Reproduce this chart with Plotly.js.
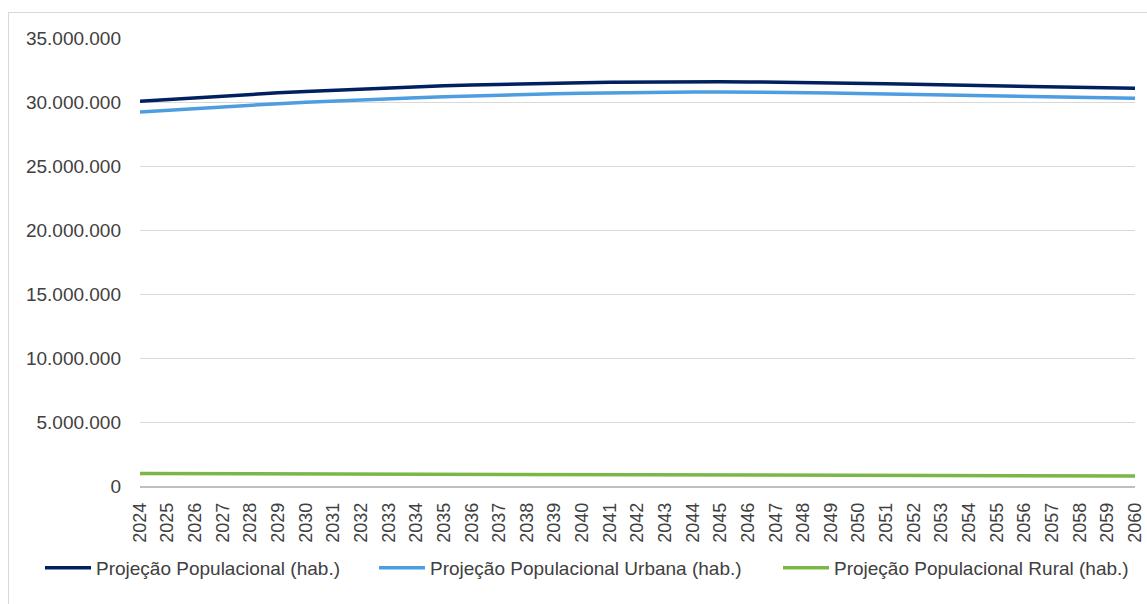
<!DOCTYPE html>
<html>
<head>
<meta charset="utf-8">
<script src="https://cdn.plot.ly/plotly-3.0.1.min.js"></script>
<style>
  html, body { margin: 0; padding: 0; background: #ffffff; }
  #frame { position: absolute; left: 8px; top: 12px; width: 1160px; height: 620px; border: 1.5px solid #d9d9d9; box-sizing: border-box; }
  #chart { position: absolute; left: 0; top: 0; width: 1147px; height: 604px; }
</style>
</head>
<body>
<div id="frame"></div>
<div id="chart"></div>
<script>
const years = ["2024","2025","2026","2027","2028","2029","2030","2031","2032","2033","2034","2035","2036","2037","2038","2039","2040","2041","2042","2043","2044","2045","2046","2047","2048","2049","2050","2051","2052","2053","2054","2055","2056","2057","2058","2059","2060"];

const totalPop = [30060000,30200000,30340000,30470000,30600000,30720000,30830000,30930000,31030000,31120000,31200000,31270000,31330000,31390000,31440000,31480000,31510000,31540000,31560000,31570000,31580000,31580000,31570000,31550000,31520000,31490000,31460000,31420000,31380000,31340000,31300000,31260000,31220000,31180000,31140000,31100000,31070000];

const urbanPop = [29220000,29360000,29500000,29630000,29750000,29870000,29980000,30080000,30170000,30260000,30340000,30410000,30480000,30540000,30590000,30640000,30680000,30720000,30750000,30770000,30780000,30790000,30780000,30760000,30730000,30700000,30660000,30620000,30580000,30540000,30500000,30470000,30430000,30400000,30360000,30330000,30290000];

const ruralPop = [970000,965000,960000,955000,950000,946000,941000,935000,930000,925000,920000,914000,909000,904000,899000,894000,889000,884000,879000,874000,869000,864000,859000,852000,845000,840000,835000,830000,825000,820000,815000,810000,805000,800000,795000,790000,785000];

const seriesNames = ["Projeção Populacional (hab.)","Projeção Populacional Urbana (hab.)","Projeção Populacional Rural (hab.)"];
const yTicks = [0,5000000,10000000,15000000,20000000,25000000,30000000,35000000];

const traces = [
  {x: years, y: totalPop, name: seriesNames[0], type: 'scatter', mode: 'lines',
   line: {color: '#002060', width: 3.5}, legend: 'legend'},
  {x: years, y: urbanPop, name: seriesNames[1], type: 'scatter', mode: 'lines',
   line: {color: '#4d9de0', width: 3.5}, legend: 'legend2'},
  {x: years, y: ruralPop, name: seriesNames[2], type: 'scatter', mode: 'lines',
   line: {color: '#7ab648', width: 3.5}, legend: 'legend3'}
];

const legFont = {family: 'Liberation Sans, Arial, sans-serif', size: 19, color: '#404040'};
const legBase = {orientation: 'h', yanchor: 'middle', y: -0.183, xanchor: 'left',
  font: legFont, bgcolor: 'rgba(0,0,0,0)', itemwidth: 46, tracegroupgap: 0};

const layout = {
  width: 1147, height: 604,
  margin: {l: 140, r: 12, t: 38, b: 118, pad: 0},
  paper_bgcolor: 'rgba(0,0,0,0)',
  plot_bgcolor: 'rgba(0,0,0,0)',
  separators: ',.',
  font: {family: 'Liberation Sans, Arial, sans-serif', color: '#404040'},
  showlegend: true,
  xaxis: {
    type: 'category',
    range: [0, years.length - 1],
    tickmode: 'array', tickvals: years, ticktext: years,
    tickangle: -90,
    tickfont: {family: 'Liberation Sans, Arial, sans-serif', size: 18, color: '#404040'},
    showgrid: false, zeroline: false,
    showline: true, linecolor: '#bfbfbf', linewidth: 1.5,
    ticks: '', ticklabelstandoff: 8,
    fixedrange: true
  },
  yaxis: {
    range: [0, 35000000],
    tickmode: 'array', tickvals: yTicks,
    tickformat: ',d',
    tickfont: {family: 'Liberation Sans, Arial, sans-serif', size: 19, color: '#404040'},
    showgrid: true, gridcolor: '#d9d9d9', gridwidth: 1,
    zeroline: false, showline: false,
    ticks: '', ticklabelstandoff: 18,
    fixedrange: true
  },
  legend: Object.assign({}, legBase, {x: (40 - 140) / 995}),
  legend2: Object.assign({}, legBase, {x: (374 - 140) / 995}),
  legend3: Object.assign({}, legBase, {x: (778 - 140) / 995})
};

Plotly.newPlot('chart', traces, layout, {displayModeBar: false, staticPlot: true});
</script>
</body>
</html>
